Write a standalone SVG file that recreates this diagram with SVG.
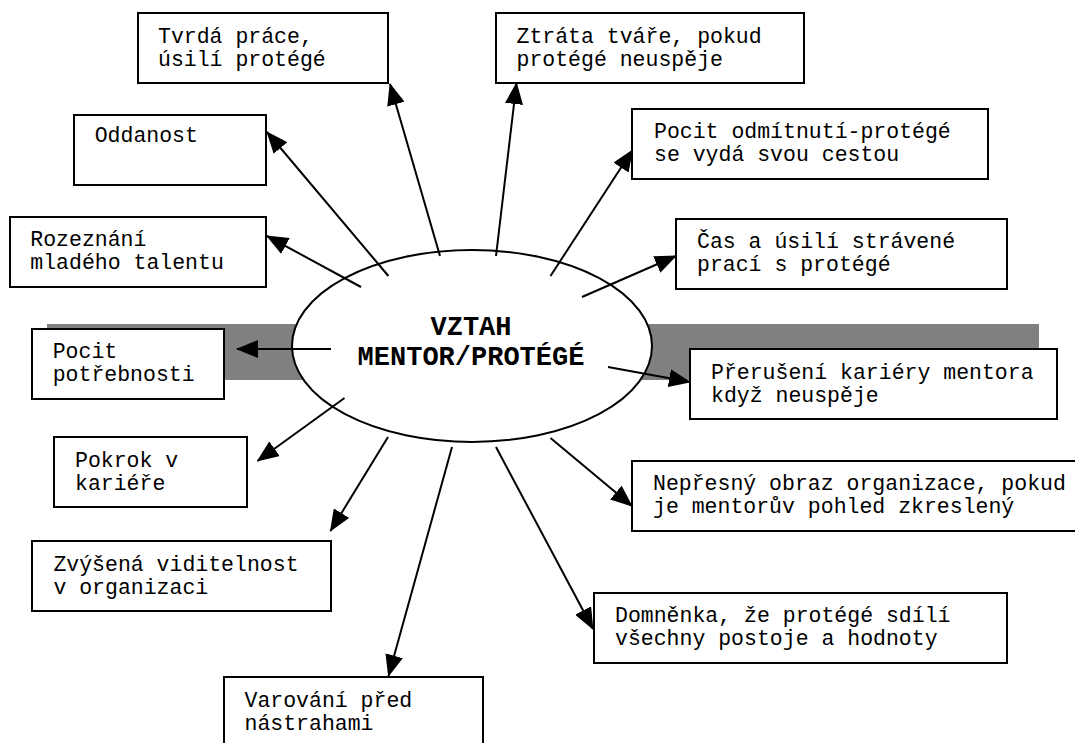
<svg xmlns="http://www.w3.org/2000/svg" width="1075" height="743" viewBox="0 0 1075 743">
<style>
.box{fill:#fff;stroke:#000;stroke-width:2}
.t{font-family:"Liberation Mono","Courier New",monospace;font-size:21.5px;fill:#000}
.c{font-family:"Liberation Mono","Courier New",monospace;font-size:27px;font-weight:bold;fill:#000;text-anchor:middle}
.con{stroke:#000;stroke-width:2;fill:none;marker-end:url(#ah)}
</style>
<defs>
<marker id="ah" markerUnits="userSpaceOnUse" markerWidth="22" markerHeight="18" refX="21" refY="9" orient="auto" viewBox="0 0 22 18">
<path d="M0,0 L22,9 L0,18 z" fill="#000"/>
</marker>
</defs>
<rect width="1075" height="743" fill="#fff"/>
<rect id="band" x="47" y="324" width="992" height="56" fill="#808080"/>
<g id="center">
<ellipse cx="472" cy="346" rx="180" ry="96" fill="#fff" stroke="#000" stroke-width="2"/>
<text class="c" x="471" y="335">VZTAH</text>
<text class="c" x="471" y="365">MENTOR/PROTÉGÉ</text>
</g>
<g id="connectors">
<line class="con" x1="440" y1="256" x2="390" y2="84"/>
<line class="con" x1="496" y1="256" x2="516.5" y2="83"/>
<line class="con" x1="388.4" y1="276" x2="267" y2="132"/>
<line class="con" x1="361" y1="287" x2="267" y2="236"/>
<line class="con" x1="550.5" y1="276" x2="632.5" y2="150"/>
<line class="con" x1="582" y1="297" x2="676" y2="256"/>
<line class="con" x1="331" y1="349" x2="237" y2="349"/>
<line class="con" x1="608" y1="367" x2="690" y2="382"/>
<line class="con" x1="344.5" y1="398" x2="257.5" y2="461"/>
<line class="con" x1="388" y1="437" x2="330.5" y2="531"/>
<line class="con" x1="452" y1="447" x2="388.5" y2="676"/>
<line class="con" x1="550.5" y1="438" x2="632" y2="506"/>
<line class="con" x1="496" y1="447" x2="593" y2="629"/>
</g>
<g id="n-tvrda"><rect class="box" x="138" y="13" width="250" height="70"/><text class="t" x="158" y="43">Tvrdá práce,</text><text class="t" x="158" y="65.5">úsilí protégé</text></g>
<g id="n-ztrata"><rect class="box" x="496" y="13" width="308" height="70"/><text class="t" x="516.5" y="43">Ztráta tváře, pokud</text><text class="t" x="516.5" y="65.5">protégé neuspěje</text></g>
<g id="n-oddanost"><rect class="box" x="74" y="115" width="192" height="70"/><text class="t" x="94.7" y="142">Oddanost</text></g>
<g id="n-rozeznani"><rect class="box" x="10" y="217" width="256" height="70"/><text class="t" x="30.3" y="246">Rozeznání</text><text class="t" x="30.3" y="268.5">mladého talentu</text></g>
<g id="n-odmitnuti"><rect class="box" x="632" y="109" width="356" height="70"/><text class="t" x="654" y="138">Pocit odmítnutí-protégé</text><text class="t" x="654" y="160.5">se vydá svou cestou</text></g>
<g id="n-cas"><rect class="box" x="676" y="219" width="331" height="70"/><text class="t" x="697" y="248">Čas a úsilí strávené</text><text class="t" x="697" y="270.5">prací s protégé</text></g>
<g id="n-potrebnost"><rect class="box" x="32" y="329" width="192" height="70"/><text class="t" x="52.7" y="358">Pocit</text><text class="t" x="52.7" y="380.5">potřebnosti</text></g>
<g id="n-preruseni"><rect class="box" x="690" y="349" width="367" height="70"/><text class="t" x="711" y="379">Přerušení kariéry mentora</text><text class="t" x="711" y="401.5">když neuspěje</text></g>
<g id="n-pokrok"><rect class="box" x="54" y="437" width="193" height="70"/><text class="t" x="75" y="467">Pokrok v</text><text class="t" x="75" y="489.5">kariéře</text></g>
<g id="n-zvysena"><rect class="box" x="32" y="541" width="299" height="70"/><text class="t" x="53.4" y="571">Zvýšená viditelnost</text><text class="t" x="53.4" y="593.5">v organizaci</text></g>
<g id="n-varovani"><rect class="box" x="224" y="677" width="259" height="80"/><text class="t" x="244.5" y="707">Varování před</text><text class="t" x="244.5" y="729.5">nástrahami</text></g>
<g id="n-nepresny"><rect class="box" x="632" y="461" width="450" height="70"/><text class="t" x="653" y="490">Nepřesný obraz organizace, pokud</text><text class="t" x="653" y="512.5">je mentorův pohled zkreslený</text></g>
<g id="n-domnenka"><rect class="box" x="594" y="593" width="413" height="70"/><text class="t" x="615" y="622">Domněnka, že protégé sdílí</text><text class="t" x="615" y="644.5">všechny postoje a hodnoty</text></g>
</svg>
